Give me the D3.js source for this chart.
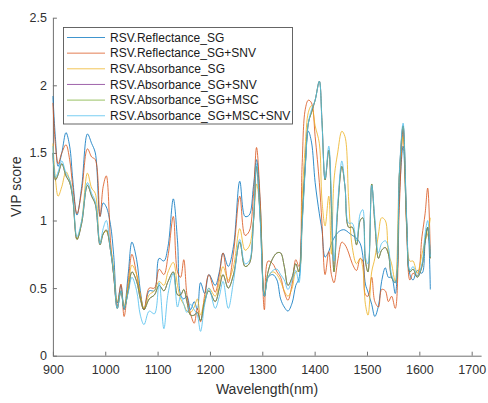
<!DOCTYPE html>
<html>
<head>
<meta charset="utf-8">
<script src="https://cdn.jsdelivr.net/npm/d3@7"></script>
<style>
  html, body { margin: 0; padding: 0; background: #fff; }
  svg { display: block; font-family: "Liberation Sans", Arial, sans-serif; }
</style>
</head>
<body>
<svg id="chart" width="488" height="403"></svg>
<script>
// Wavelength sampling positions (nm)
const wavelengths = [900,905,910,917,925,932,938,946,955,966,974,981,990,996,1002,1010,1016,1023,1030,1036,
  1044,1051,1060,1067,1074,1084,1094,1103,1112,1120,1130,1138,1144,1150,1156,1163,1170,1176,1182,1190,
  1198,1210,1218,1225,1235,1245,1257,1267,1275,1283,1289,1296,1304,1311,1320,1328,1335,1342,1349,1357,
  1364,1370,1376,1382,1388,1394,1401,1409,1414,1420,1427,1432,1437,1444,1452,1458,1465,1472,1480,1487,
  1492,1497,1502,1509,1515,1522,1528,1535,1541,1547,1554,1562,1569,1576,1582,1588,1596,1605,1611,1616,1621];

const reflectanceSG = [1.92,1.60,1.40,1.50,1.65,1.55,1.30,1.04,1.25,1.64,1.57,1.50,1.03,1.13,1.10,0.97,0.75,0.39,0.52,0.34,
  0.61,0.84,0.71,0.48,0.34,0.48,0.48,0.72,0.70,0.81,1.16,0.85,0.45,0.42,0.44,0.34,0.40,0.34,0.54,0.46,
  0.60,0.52,0.62,0.76,0.66,0.81,1.29,1.03,1.04,1.25,1.45,1.13,0.44,0.58,0.60,0.56,0.42,0.36,0.33,0.39,
  0.52,0.57,1.02,1.40,1.66,1.58,1.28,1.05,0.93,0.73,0.77,0.83,0.87,0.91,0.93,0.93,0.91,0.89,0.87,0.83,
  0.74,0.53,0.47,0.38,0.29,0.37,0.55,0.65,0.58,0.58,0.46,1.20,1.55,0.95,0.60,0.56,0.63,0.61,0.83,0.95,0.49];

const reflectanceSG_SNV = [1.87,1.55,1.42,1.50,1.56,1.45,1.25,1.05,1.22,1.53,1.47,1.45,1.03,1.25,1.33,0.85,0.60,0.37,0.53,0.29,
  0.55,0.75,0.60,0.45,0.34,0.50,0.50,0.64,0.60,0.74,1.03,0.62,0.58,0.71,0.45,0.31,0.24,0.35,0.25,0.45,
  0.60,0.47,0.60,0.76,0.54,0.76,1.18,0.89,0.92,1.18,1.54,1.15,0.34,0.70,0.68,0.62,0.58,0.47,0.41,0.53,
  0.71,0.66,1.40,1.82,1.89,1.87,1.62,1.28,0.98,0.60,0.77,0.60,0.54,0.70,0.84,0.82,0.76,0.68,0.63,0.72,
  0.70,0.45,0.44,0.58,0.40,0.36,0.49,0.48,0.40,0.44,0.35,1.12,1.67,0.92,0.56,0.61,0.59,0.88,1.05,1.24,0.75];

const absorbanceSG = [1.57,1.30,1.18,1.25,1.36,1.30,1.18,0.86,1.00,1.35,1.24,1.20,0.84,0.90,0.92,0.80,0.65,0.40,0.47,0.37,
  0.52,0.67,0.60,0.45,0.35,0.45,0.48,0.55,0.52,0.62,0.69,0.52,0.42,0.38,0.33,0.32,0.36,0.42,0.30,0.42,
  0.50,0.44,0.55,0.66,0.56,0.66,0.94,0.78,0.81,1.00,1.27,1.07,0.46,0.58,0.62,0.60,0.55,0.48,0.44,0.50,
  0.62,0.63,1.15,1.55,1.80,1.85,1.70,1.57,1.15,0.96,1.18,0.75,1.30,1.50,1.66,1.62,1.15,0.80,0.68,0.72,
  0.65,0.38,0.30,0.62,0.72,0.90,1.02,1.00,0.76,0.68,0.55,1.35,1.62,0.95,0.70,0.70,0.61,0.75,0.85,0.90,1.02];

const absorbanceSG_SNV = [1.50,1.30,1.34,1.42,1.33,1.28,1.16,0.86,0.98,1.26,1.18,1.12,0.82,0.90,0.93,0.78,0.60,0.35,0.48,0.35,
  0.48,0.62,0.55,0.42,0.34,0.42,0.45,0.52,0.48,0.55,0.62,0.45,0.45,0.49,0.40,0.30,0.30,0.32,0.26,0.40,
  0.48,0.40,0.50,0.60,0.50,0.60,0.84,0.66,0.68,0.98,1.40,1.02,0.44,0.62,0.72,0.76,0.76,0.66,0.52,0.58,
  0.68,0.62,0.98,1.40,1.72,1.80,1.89,2.03,1.74,1.30,1.52,1.10,0.62,1.08,1.40,1.25,0.95,0.95,0.82,1.00,
  1.02,0.70,0.62,1.27,0.98,0.72,0.78,0.80,0.75,0.58,0.54,1.35,1.70,0.98,0.62,0.64,0.58,0.66,0.85,0.95,0.72];

const absorbanceSG_MSC = [1.50,1.30,1.34,1.42,1.33,1.28,1.16,0.86,0.98,1.26,1.18,1.12,0.82,0.90,0.93,0.78,0.60,0.35,0.48,0.35,
  0.48,0.62,0.55,0.42,0.34,0.42,0.45,0.52,0.48,0.55,0.62,0.45,0.45,0.49,0.40,0.30,0.30,0.32,0.26,0.40,
  0.48,0.40,0.50,0.60,0.50,0.60,0.84,0.66,0.68,0.98,1.40,1.02,0.44,0.62,0.72,0.76,0.76,0.66,0.52,0.58,
  0.68,0.62,0.98,1.40,1.72,1.80,1.89,2.03,1.74,1.30,1.52,1.10,0.62,1.08,1.40,1.25,0.95,0.95,0.82,1.00,
  1.02,0.70,0.62,1.27,0.98,0.72,0.78,0.80,0.75,0.58,0.54,1.35,1.70,0.98,0.62,0.64,0.58,0.66,0.85,0.95,0.72];

const absorbanceSG_MSC_SNV = [1.55,1.32,1.36,1.44,1.35,1.30,1.18,0.88,1.00,1.28,1.20,1.14,0.83,0.94,1.00,0.78,0.62,0.35,0.48,0.35,
  0.47,0.58,0.48,0.30,0.23,0.33,0.31,0.54,0.20,0.46,0.61,0.36,0.44,0.38,0.32,0.38,0.34,0.30,0.18,0.38,
  0.50,0.35,0.44,0.55,0.35,0.55,0.86,0.68,0.70,1.00,1.42,1.00,0.44,0.58,0.63,0.64,0.60,0.56,0.49,0.56,
  0.63,0.54,0.95,1.37,1.72,1.82,1.89,2.03,1.72,1.31,1.55,1.20,0.70,1.12,1.44,1.25,0.98,0.98,0.85,1.05,
  1.08,0.73,0.68,1.26,1.02,0.76,0.83,0.85,0.80,0.60,0.54,1.37,1.72,1.00,0.63,0.66,0.59,0.68,0.90,1.00,0.73];

const seriesNames = ["RSV.Reflectance_SG","RSV.Reflectance_SG+SNV","RSV.Absorbance_SG",
  "RSV.Absorbance_SG+SNV","RSV.Absorbance_SG+MSC","RSV.Absorbance_SG+MSC+SNV"];
const seriesValues = [reflectanceSG, reflectanceSG_SNV, absorbanceSG, absorbanceSG_SNV, absorbanceSG_MSC, absorbanceSG_MSC_SNV];
const seriesColors = ["#0072BD","#D95319","#EDB120","#7E2F8E","#77AC30","#4DBEEE"];

const xTicks = [900,1000,1100,1200,1300,1400,1500,1600,1700];
const yTicks = [0,0.5,1,1.5,2,2.5];

const svg = d3.select("#chart");
const x = d3.scaleLinear().domain([900, 1718]).range([52.9, 481.1]);
const y = d3.scaleLinear().domain([0, 2.5]).range([355.7, 17.7]);
const axisColor = "#707070";
const textColor = "#303030";

// Axes: ticks point into the plot area
const xAxis = svg.append("g").attr("transform", `translate(0,${y(0)})`)
  .call(d3.axisBottom(x).tickValues(xTicks).tickSizeInner(-4).tickSizeOuter(0).tickPadding(9)
    .tickFormat(d3.format("d")));
const yAxis = svg.append("g").attr("transform", `translate(${x(900)},0)`)
  .call(d3.axisLeft(y).tickValues(yTicks).tickSizeInner(-4).tickSizeOuter(0).tickPadding(6)
    .tickFormat(d => d === 0 ? "0" : String(d)));
[xAxis, yAxis].forEach(g => {
  g.select(".domain").attr("stroke", axisColor).attr("stroke-width", 1);
  g.selectAll(".tick line").attr("stroke", axisColor).attr("stroke-width", 1);
  g.selectAll(".tick text").attr("fill", textColor).style("font-size", "12.5px")
    .style("font-family", "'Liberation Sans', Arial, sans-serif");
});

svg.append("text").attr("x", 267).attr("y", 394).attr("text-anchor", "middle")
  .attr("fill", textColor).style("font-size", "14px").text("Wavelength(nm)");
svg.append("text").attr("transform", `translate(21,${y(1.25)}) rotate(-90)`).attr("text-anchor", "middle")
  .attr("fill", textColor).style("font-size", "14px").text("VIP score");

// Spectral curves
const line = d3.line()
  .x((d, i) => x(wavelengths[i]))
  .y(d => y(d))
  .curve(d3.curveCatmullRom.alpha(0.5));

svg.append("g").selectAll("path").data(seriesValues).join("path")
  .attr("d", d => line(d))
  .attr("fill", "none")
  .attr("stroke", (d, i) => seriesColors[i])
  .attr("stroke-width", 0.9)
  .attr("stroke-opacity", 0.9)
  .attr("stroke-linejoin", "round");

// Legend
const lg = svg.append("g");
lg.append("rect").attr("x", 63.5).attr("y", 27.5).attr("width", 229).attr("height", 96.5)
  .attr("fill", "#fff").attr("stroke", "#555").attr("stroke-width", 0.9);
seriesNames.forEach((name, i) => {
  const yy = 37.5 + i * 15.65;
  lg.append("line").attr("x1", 67).attr("x2", 105).attr("y1", yy).attr("y2", yy)
    .attr("stroke", seriesColors[i]).attr("stroke-width", 1).attr("stroke-opacity", 0.75);
  lg.append("text").attr("x", 110).attr("y", yy + 4.3).attr("fill", "#1a1a1a")
    .style("font-size", "12px").text(name);
});
</script>
</body>
</html>
